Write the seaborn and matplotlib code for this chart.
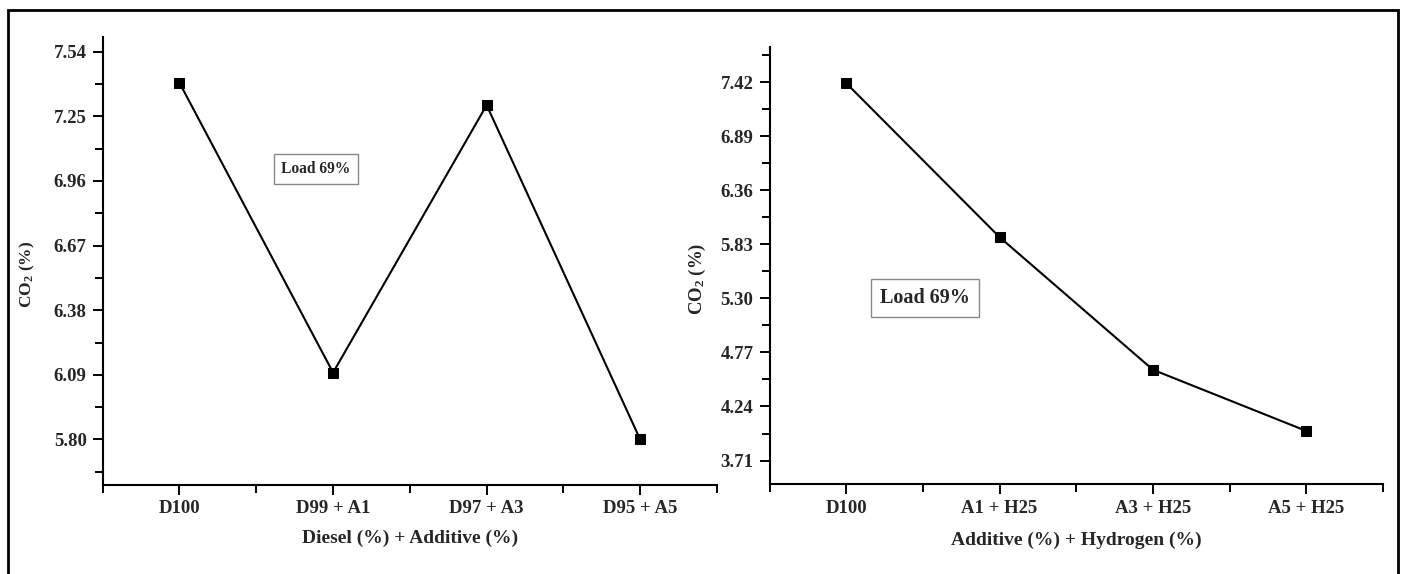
import numpy as np
import pandas as pd
import matplotlib
matplotlib.use("Agg")
import matplotlib.pyplot as plt
from matplotlib.patches import Rectangle
from matplotlib.ticker import FixedLocator
import seaborn as sns

# CO2 emissions at 69% engine load
blend_cats = ["D100", "D99 + A1", "D97 + A3", "D95 + A5"]
blend_co2 = [7.40, 6.10, 7.30, 5.80]
blend_yticks = [5.80, 6.09, 6.38, 6.67, 6.96, 7.25, 7.54]

hydrogen_cats = ["D100", "A1 + H25", "A3 + H25", "A5 + H25"]
hydrogen_co2 = [7.41, 5.90, 4.60, 4.00]
hydrogen_yticks = [3.71, 4.24, 4.77, 5.30, 5.83, 6.36, 6.89, 7.42]

sns.set_style("ticks")
plt.rcParams["font.family"] = ["Liberation Serif", "DejaVu Serif"]
plt.rcParams["font.weight"] = "bold"
plt.rcParams["mathtext.fontset"] = "custom"
plt.rcParams["mathtext.rm"] = "Liberation Serif:bold"
plt.rcParams["mathtext.default"] = "rm"

W, H = 1407, 574
fig = plt.figure(figsize=(W / 100, H / 100), dpi=100)


def px_axes(x0, x1, y0, y1):
    return fig.add_axes([x0 / W, 1 - y1 / H, (x1 - x0) / W, (y1 - y0) / H])


ax1 = px_axes(102.7, 717, 36.7, 484.5)
ax2 = px_axes(769.5, 1383, 46.7, 484)


def draw_panel(ax, cats, vals, yticks, ylim, xlabel, box_xy, box_fs, ylab_fs,
               ylab_xy, xlab_y):
    df = pd.DataFrame({"blend": cats, "co2": vals})
    sns.lineplot(data=df, x="blend", y="co2", sort=False, ax=ax,
                 color="black", linewidth=1.5, marker="s", markersize=7.5,
                 markeredgecolor="black")
    ax.set_xlim(-0.5, len(cats) - 0.5)
    ax.set_ylim(*ylim)
    ax.set_xticks(range(len(cats)))
    ax.set_xticklabels(cats)
    ax.xaxis.set_minor_locator(FixedLocator(np.arange(-0.5, len(cats), 1.0)))
    step = yticks[1] - yticks[0]
    minors = np.arange(yticks[0] - step / 2, ylim[1], step)
    ax.yaxis.set_minor_locator(FixedLocator(minors[minors >= ylim[0]]))
    ax.set_yticks(yticks)
    ax.set_yticklabels([f"{v:.2f}" for v in yticks])
    ax.set_ylim(*ylim)

    for side in ("top", "right"):
        ax.spines[side].set_visible(False)
    for side in ("left", "bottom"):
        ax.spines[side].set_linewidth(1.5)
        ax.spines[side].set_color("black")
    ax.tick_params(which="both", direction="out", width=1.4, color="black")
    ax.tick_params(which="major", length=7, labelsize=13.5, pad=4.5)
    ax.tick_params(which="minor", length=6)
    for lab in ax.get_xticklabels() + ax.get_yticklabels():
        lab.set_fontweight("bold")

    ax.set_xlabel(xlabel, fontsize=14, fontweight="bold")
    ax.xaxis.set_label_coords(0.5, xlab_y)
    ax.xaxis.label.set_va("center")
    ax.set_ylabel(r"CO$_2$ (%)", fontsize=ylab_fs, fontweight="bold")
    ax.yaxis.set_label_coords(*ylab_xy)
    ax.yaxis.label.set_va("center")

    ax.text(box_xy[0], box_xy[1], "Load 69%", transform=ax.transAxes,
            ha="center", va="center", fontsize=box_fs, fontweight="bold",
            bbox=dict(boxstyle="square,pad=0.45", facecolor="white",
                      edgecolor="#888888", linewidth=1.0))
    ax.set_facecolor("none")


draw_panel(ax1, blend_cats, blend_co2, blend_yticks, (5.598, 7.607),
           "Diesel (%) + Additive (%)", (0.347, 0.7045), 11.2, 12.5,
           (-0.122, 0.47), -0.1206)
draw_panel(ax2, hydrogen_cats, hydrogen_co2, hydrogen_yticks, (3.48, 7.767),
           "Additive (%) + Hydrogen (%)", (0.253, 0.4253), 14.5, 13.5,
           (-0.117, 0.469), -0.128)

# outer border around both panels (open at the bottom edge)
fig.patches.append(Rectangle((8 / W, -0.05), (1398 - 8) / W, 1.05 - 9.5 / H,
                             transform=fig.transFigure, fill=False,
                             edgecolor="black", linewidth=2.0, clip_on=False))

fig.savefig("out.png", dpi=100)
